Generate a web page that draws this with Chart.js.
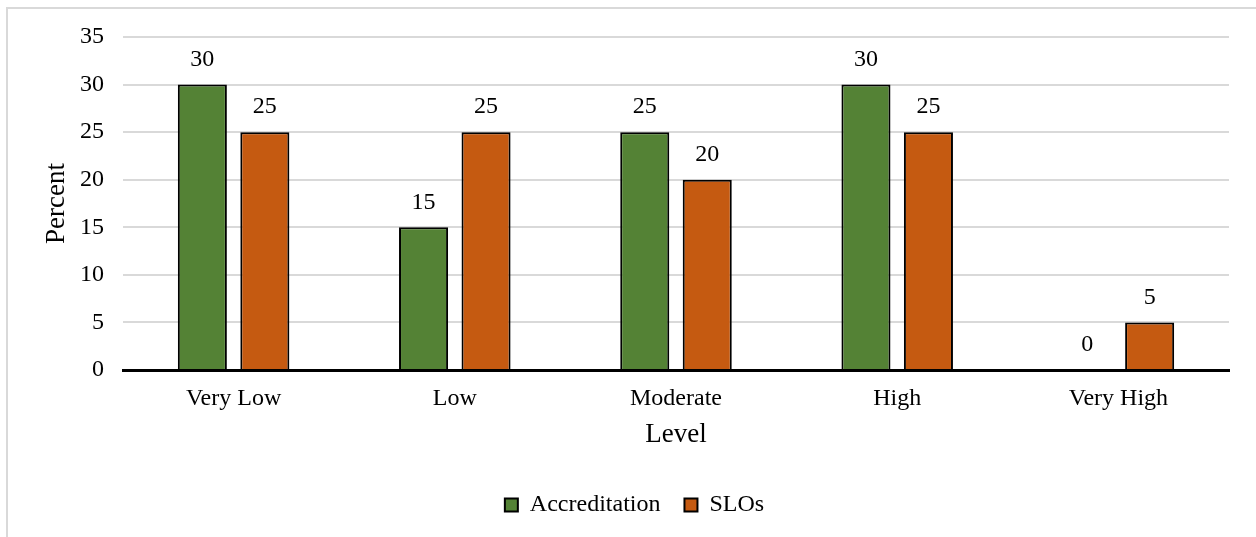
<!DOCTYPE html>
<html>
<head>
<meta charset="utf-8">
<title>Level by Percent</title>
<script src="https://cdn.jsdelivr.net/npm/chart.js@4/dist/chart.umd.min.js"></script>
<style>
  html, body { margin: 0; padding: 0; background: #ffffff; }
  #wrap { position: relative; width: 1256px; height: 537px; overflow: hidden; }
  #frame {
    position: absolute; left: 6px; top: 7px; width: 1300px; height: 600px;
    border-top: 2px solid #d9d9d9; border-left: 2px solid #d9d9d9;
    box-sizing: border-box; pointer-events: none;
  }
  canvas { position: absolute; left: 0; top: 0; }
</style>
</head>
<body>
<div id="wrap">
  <div id="frame"></div>
  <canvas id="chart" width="1256" height="537"></canvas>
</div>
<script>
// Categories and series
const levels = ['Very Low', 'Low', 'Moderate', 'High', 'Very High'];
const accreditation = [30, 15, 25, 30, 0];
const slos = [25, 25, 20, 25, 5];
const yTicks = [0, 5, 10, 15, 20, 25, 30, 35];

const FONT = "'Liberation Serif', 'Times New Roman', serif";

// Plot box edges in canvas pixels
const PAD_LEFT = 40;
const PLOT_LEFT = 123;
const PLOT_BOTTOM = 370;
const PAD_BOTTOM = 10;

// Writes each bar's value above it
const valueLabels = {
  id: 'valueLabels',
  afterDatasetsDraw(chart) {
    const ctx = chart.ctx;
    ctx.save();
    ctx.font = '24px ' + FONT;
    ctx.fillStyle = '#000000';
    ctx.textAlign = 'center';
    ctx.textBaseline = 'middle';
    chart.data.datasets.forEach((ds, i) => {
      chart.getDatasetMeta(i).data.forEach((bar, j) => {
        ctx.fillText(String(ds.data[j]), bar.x, bar.y - 25);
      });
    });
    ctx.restore();
  }
};

new Chart(document.getElementById('chart'), {
  type: 'bar',
  data: {
    labels: levels,
    datasets: [
      {
        label: 'Accreditation',
        data: accreditation,
        backgroundColor: '#548235',
        borderColor: '#000000',
        borderWidth: 2,
        categoryPercentage: 0.565,
        barPercentage: 0.785
      },
      {
        label: 'SLOs',
        data: slos,
        backgroundColor: '#C55A11',
        borderColor: '#000000',
        borderWidth: 2,
        categoryPercentage: 0.565,
        barPercentage: 0.785
      }
    ]
  },
  options: {
    responsive: false,
    animation: false,
    layout: { padding: { left: PAD_LEFT, top: 37, right: 27, bottom: PAD_BOTTOM } },
    plugins: {
      legend: {
        position: 'bottom',
        labels: {
          font: { family: FONT, size: 24 },
          color: '#000000',
          boxWidth: 13,
          boxHeight: 13,
          padding: 24
        }
      },
      tooltip: { enabled: false }
    },
    scales: {
      x: {
        grid: { display: false },
        border: { display: true, color: '#000000', width: 3 },
        ticks: { font: { family: FONT, size: 24 }, color: '#000000', padding: 6 },
        title: {
          display: true, text: 'Level',
          font: { family: FONT, size: 27 }, color: '#000000',
          padding: { top: 4, bottom: 18 }
        },
        afterFit(scale) {
          const legendH = scale.chart.legend ? scale.chart.legend.height : 0;
          scale.height = scale.chart.height - PAD_BOTTOM - legendH - PLOT_BOTTOM;
        }
      },
      y: {
        min: 0,
        max: 35,
        afterBuildTicks(scale) {
          scale.ticks = yTicks.map(v => ({ value: v }));
        },
        grid: { color: '#d9d9d9', lineWidth: 2, drawTicks: false },
        border: { display: false },
        ticks: { font: { family: FONT, size: 24 }, color: '#000000', padding: 19 },
        title: {
          display: true, text: 'Percent',
          font: { family: FONT, size: 27 }, color: '#000000',
          padding: { top: 1, bottom: 0 }
        },
        afterFit(scale) {
          scale.width = PLOT_LEFT - PAD_LEFT;
        }
      }
    }
  },
  plugins: [valueLabels]
});
</script>
</body>
</html>
